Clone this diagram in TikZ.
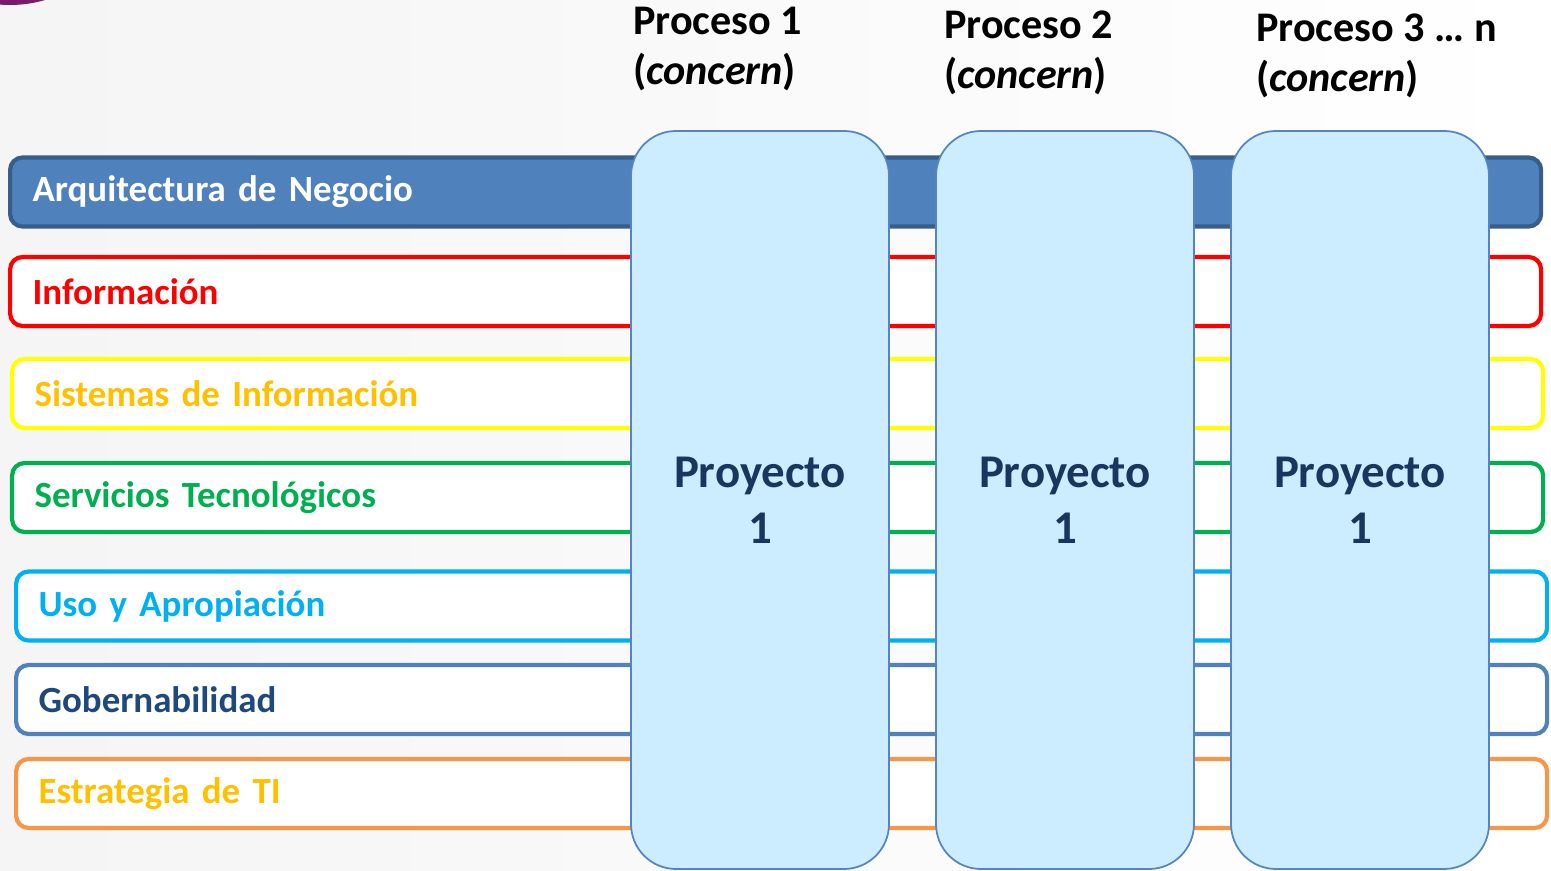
\documentclass[tikz,border=0pt]{standalone}
\usepackage{fontspec}
\setmainfont{Carlito}
\usetikzlibrary{positioning}
\definecolor{negocio}{HTML}{4F81BD}
\definecolor{negociobd}{HTML}{385D8A}
\definecolor{amarillo}{HTML}{FFFF00}
\definecolor{oro}{HTML}{FFC000}
\definecolor{verde}{HTML}{00B050}
\definecolor{celeste}{HTML}{00B0F0}
\definecolor{marino}{HTML}{1F497D}
\definecolor{naranja}{HTML}{F79646}
\definecolor{colfondo}{HTML}{CCECFF}
\definecolor{colborde}{HTML}{5584C0}
\definecolor{coltexto}{HTML}{17375E}
\definecolor{morado}{HTML}{7A1A6B}
\tikzset{
  capa/.style={draw,line width=2.4pt,rounded corners=0.25cm,fill=white,anchor=west,
    minimum width=30.62cm,minimum height=1.38cm,text width=29.72cm,align=left,
    inner xsep=0.45cm,font=\bfseries\fontsize{21}{25}\selectfont},
  proyecto/.style={draw=colborde,line width=1pt,fill=colfondo,rounded corners=0.9cm,
    minimum width=5.16cm,minimum height=14.76cm,align=center,text=coltexto,
    font=\bfseries\fontsize{26.7}{32}\selectfont},
  proceso/.style={anchor=west,align=left,inner sep=0pt,
    font=\bfseries\fontsize{24}{28.5}\selectfont}
}

\begin{document}
\begin{tikzpicture}
    \useasboundingbox (0,0) rectangle (31.02,-17.42);
    \clip (0,0) rectangle (31.02,-17.42);
    \fill[left color=black!4,right color=white] (0,0) rectangle (31.02,-17.42);
    \fill[color=morado] (0.2,2.4) circle (2.5);
    % capas de la arquitectura
    \node[capa,draw=negociobd,fill=negocio,text=white] (negocio) at (0.16,-3.84) {Arquitectura de Negocio};
    \node[capa,draw=red,text=red] (informacion) at (0.16,-5.83) {Información};
    \node[capa,draw=amarillo,text=oro] (sistemas) at (0.2,-7.87) {Sistemas de Información};
    \node[capa,draw=verde,text=verde] (servicios) at (0.2,-9.95) {Servicios Tecnológicos};
    \node[capa,draw=celeste,text=celeste] (uso) at (0.28,-12.12) {Uso y Apropiación};
    \node[capa,draw=negocio,text=marino] (gobierno) at (0.28,-13.99) {Gobernabilidad};
    \node[capa,draw=naranja,text=oro] (estrategia) at (0.28,-15.87) {Estrategia de TI};
    % proyectos
    \node[proyecto] (proy1) at (15.2,-10.0) {Proyecto\\1};
    \node[proyecto] (proy2) at (21.3,-10.0) {Proyecto\\1};
    \node[proyecto] (proy3) at (27.2,-10.0) {Proyecto\\1};
    % procesos
    \node[proceso] (proc1) at (12.66,-0.98) {Proceso 1\\(\textit{concern})};
    \node[proceso] (proc2) at (18.88,-1.06) {Proceso 2\\(\textit{concern})};
    \node[proceso] (proc3) at (25.12,-1.12) {Proceso 3 … n\\(\textit{concern})};
\end{tikzpicture}
\end{document}
